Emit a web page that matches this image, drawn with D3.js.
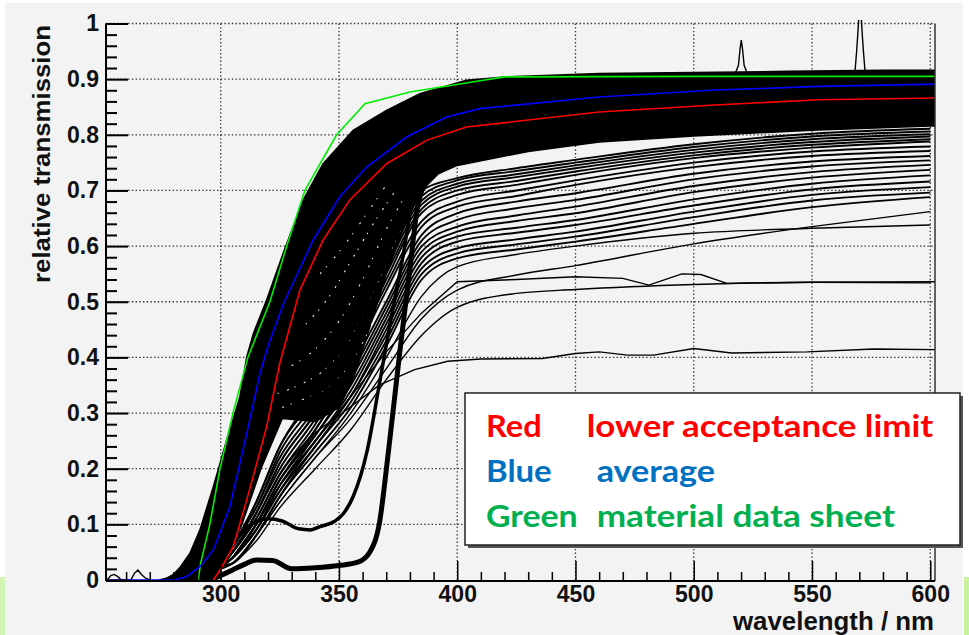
<!DOCTYPE html>
<html>
<head>
<meta charset="utf-8">
<script src="https://cdn.jsdelivr.net/npm/d3@7"></script>
<style>
  html, body { margin: 0; padding: 0; background: #fff; }
  svg { display: block; }
  .axis text { font-family: 'Liberation Sans', Arial, sans-serif; font-weight: bold; font-size: 23px; fill: #111; }
</style>
</head>
<body>
<svg class="chart" width="969" height="635"></svg>
<script>
// tick labels
const xTicks = [300, 350, 400, 450, 500, 550, 600]
const yTicks = [0, 0.1, 0.2, 0.3, 0.4, 0.5, 0.6, 0.7, 0.8, 0.9, 1]
const yTickLabels = ['0', '0.1', '0.2', '0.3', '0.4', '0.5', '0.6', '0.7', '0.8', '0.9', '1']

// dense black band of spectra: upper edge and lower edge
const bandTopWave = [274, 277, 280, 283, 287, 291.2, 296.9, 302.5, 308.1, 311, 313.8, 319.4, 326.4, 334.9, 343.3, 356, 370.1, 384.2, 403.9, 420, 440, 460, 500, 540, 580, 602]
const bandTopValue = [0, 0.003, 0.01, 0.024, 0.048, 0.09, 0.168, 0.251, 0.329, 0.401, 0.443, 0.503, 0.587, 0.683, 0.748, 0.808, 0.844, 0.874, 0.898, 0.904, 0.907, 0.91, 0.912, 0.914, 0.916, 0.916]
const bandLowWave = [602, 600, 550, 500, 460, 430, 400, 392, 385, 378, 370, 362, 356, 350, 340, 326, 317, 309, 306, 302, 297]
const bandLowValue = [0.816, 0.816, 0.808, 0.798, 0.787, 0.77, 0.745, 0.73, 0.7, 0.64, 0.55, 0.44, 0.36, 0.31, 0.285, 0.29, 0.2, 0.1, 0.07, 0.03, 0]

// light gaps between the densest spectra (speckled part of the band)
const gapLines = [
  [[326, 0.31], [335, 0.325], [345, 0.345], [355, 0.39], [365, 0.47], [375, 0.57], [383, 0.66]],
  [[324, 0.335], [334, 0.352], [344, 0.378], [354, 0.428], [364, 0.51], [374, 0.61], [382, 0.68]],
  [[330, 0.385], [340, 0.415], [350, 0.465], [360, 0.54], [370, 0.63], [378, 0.69]],
  [[336, 0.46], [346, 0.51], [356, 0.58], [366, 0.65], [374, 0.7]],
  [[342, 0.55], [352, 0.6], [362, 0.66], [370, 0.71]]
]

// single spectra below the band
const fanWave = [300, 305, 315, 325, 340, 355, 370, 385, 400, 425, 450, 500, 550, 600]
const fanValues = [
  [0.025, 0.06, 0.14, 0.24, 0.34, 0.46, 0.59, 0.7, 0.722, 0.74, 0.755, 0.783, 0.802, 0.811],
  [0.025, 0.06, 0.14, 0.24, 0.33, 0.45, 0.58, 0.69, 0.718, 0.735, 0.75, 0.778, 0.797, 0.806],
  [0.025, 0.06, 0.13, 0.23, 0.32, 0.44, 0.57, 0.682, 0.712, 0.729, 0.745, 0.773, 0.792, 0.801],
  [0.025, 0.06, 0.13, 0.22, 0.31, 0.43, 0.56, 0.675, 0.707, 0.724, 0.74, 0.768, 0.787, 0.797],
  [0.025, 0.05, 0.12, 0.21, 0.3, 0.42, 0.55, 0.667, 0.7, 0.717, 0.734, 0.763, 0.782, 0.792],
  [0.025, 0.05, 0.12, 0.21, 0.3, 0.41, 0.54, 0.66, 0.692, 0.71, 0.728, 0.758, 0.777, 0.788],
  [0.025, 0.05, 0.12, 0.2, 0.29, 0.4, 0.53, 0.645, 0.68, 0.7, 0.718, 0.75, 0.77, 0.779],
  [0.025, 0.05, 0.11, 0.19, 0.28, 0.39, 0.52, 0.635, 0.671, 0.69, 0.71, 0.742, 0.762, 0.771],
  [0.025, 0.05, 0.11, 0.19, 0.27, 0.38, 0.5, 0.62, 0.659, 0.68, 0.695, 0.73, 0.752, 0.762],
  [0.025, 0.04, 0.1, 0.18, 0.27, 0.37, 0.49, 0.61, 0.647, 0.668, 0.683, 0.72, 0.743, 0.754],
  [0.025, 0.04, 0.1, 0.18, 0.26, 0.36, 0.48, 0.6, 0.635, 0.655, 0.671, 0.708, 0.733, 0.746],
  [0.025, 0.04, 0.1, 0.17, 0.26, 0.35, 0.47, 0.59, 0.626, 0.645, 0.659, 0.697, 0.723, 0.737],
  [0.025, 0.04, 0.09, 0.17, 0.25, 0.34, 0.46, 0.58, 0.617, 0.633, 0.647, 0.684, 0.712, 0.727],
  [0.025, 0.04, 0.09, 0.16, 0.25, 0.33, 0.45, 0.57, 0.608, 0.624, 0.638, 0.673, 0.702, 0.716],
  [0.025, 0.04, 0.09, 0.16, 0.24, 0.33, 0.44, 0.56, 0.596, 0.612, 0.626, 0.662, 0.692, 0.706],
  [0.025, 0.03, 0.08, 0.15, 0.24, 0.32, 0.43, 0.55, 0.587, 0.603, 0.617, 0.652, 0.682, 0.696],
  [0.025, 0.03, 0.08, 0.15, 0.23, 0.31, 0.42, 0.54, 0.578, 0.594, 0.608, 0.64, 0.67, 0.688],
  [0.02, 0.03, 0.08, 0.14, 0.22, 0.29, 0.38, 0.47, 0.521, 0.548, 0.565, 0.604, 0.635, 0.662],
  [0.02, 0.03, 0.08, 0.14, 0.22, 0.3, 0.4, 0.51, 0.563, 0.585, 0.6, 0.623, 0.632, 0.638],
  [0.02, 0.03, 0.07, 0.13, 0.2, 0.27, 0.36, 0.44, 0.49, 0.515, 0.522, 0.531, 0.535, 0.534]
]
const bumpWave = [300, 305, 315, 325, 340, 355, 370, 385, 400, 425, 450, 470, 481, 495, 503, 514, 550, 602]
const bumpValue = [0.02, 0.04, 0.1, 0.17, 0.25, 0.33, 0.41, 0.48, 0.536, 0.54, 0.545, 0.542, 0.53, 0.55, 0.549, 0.533, 0.535, 0.536]
const lowWave = [300, 305, 315, 325, 340, 353, 367, 382, 396, 410, 436, 450, 460, 472, 483, 500, 516, 548, 576, 602]
const lowValue = [0.02, 0.04, 0.1, 0.18, 0.265, 0.305, 0.35, 0.378, 0.393, 0.397, 0.398, 0.407, 0.41, 0.404, 0.404, 0.416, 0.408, 0.41, 0.415, 0.414]

// the two dark samples
const thickAWave = [300, 305, 310, 315, 320, 326, 333, 338, 342, 348, 352, 356, 362, 367, 372, 377, 381, 385, 392]
const thickAValue = [0.03, 0.06, 0.09, 0.105, 0.11, 0.106, 0.092, 0.09, 0.096, 0.105, 0.12, 0.15, 0.234, 0.35, 0.47, 0.58, 0.68, 0.72, 0.75]
const thickBWave = [296, 300, 305, 310, 315, 322, 330, 340, 350, 358, 363, 367, 371, 376, 380, 383, 387, 392]
const thickBValue = [0, 0.008, 0.018, 0.028, 0.036, 0.035, 0.02, 0.022, 0.026, 0.032, 0.05, 0.1, 0.234, 0.42, 0.56, 0.665, 0.72, 0.75]

// noise near zero and two spikes on top
const noiseWave = [252, 253.5, 255, 256.5, 258, 262, 263.5, 265, 266.5, 268, 270]
const noiseValue = [0, 0.008, 0.01, 0.006, 0, 0, 0.012, 0.018, 0.01, 0.004, 0]
const spikeOneWave = [517.8, 518.9, 519.6, 520.1, 520.6, 521.3, 522.4]
const spikeOneValue = [0.913, 0.925, 0.955, 0.97, 0.955, 0.925, 0.913]
const spikeTwoWave = [568.2, 568.9, 569.6, 570.3, 571.0, 571.7, 572.4]
const spikeTwoValue = [0.915, 0.952, 0.997, 1.05, 0.997, 0.952, 0.915]

// reference curves
const greenWave = [290.5, 291.5, 295.4, 299.7, 305.2, 311.5, 320.8, 327.9, 335.6, 349, 361, 380, 405, 420, 500, 602]
const greenValue = [0, 0.03, 0.1, 0.2, 0.3, 0.4, 0.5, 0.6, 0.7, 0.8, 0.856, 0.877, 0.894, 0.904, 0.905, 0.905]
const blueWave = [252, 280, 285.6, 291.2, 296.9, 303.9, 311, 316.6, 320, 326.4, 329.3, 339.1, 350.4, 361.7, 378.6, 395.5, 409.6, 460, 507, 553, 602]
const blueValue = [0, 0, 0.006, 0.024, 0.054, 0.132, 0.263, 0.371, 0.42, 0.495, 0.522, 0.611, 0.689, 0.742, 0.796, 0.832, 0.847, 0.868, 0.88, 0.887, 0.891]
const redWave = [296.9, 300, 305.3, 311, 319.4, 325, 333.5, 343.3, 354.6, 370.1, 387, 403.9, 460, 507, 553, 602]
const redValue = [0, 0.02, 0.06, 0.144, 0.275, 0.39, 0.521, 0.611, 0.683, 0.748, 0.79, 0.814, 0.841, 0.853, 0.863, 0.866]

const legendKeys = ['Red', 'Blue', 'Green']
const legendTexts = ['lower acceptance limit', 'average', 'material data sheet']
const legendColors = ['#ff0000', '#0070c0', '#00b050']

const zip = (ws, vs) => ws.map((w, i) => [w, vs[i]])

const chart = d3.select('.chart')
const frame = { left: 106, right: 935, top: 23.5, bottom: 581 }

const x = d3.scaleLinear().domain([251.5, 602]).range([frame.left, frame.right])
const y = d3.scaleLinear().domain([0, 1]).range([580, frame.top])

// pad
chart.append('rect').attr('x', 5).attr('y', 3).attr('width', 958).attr('height', 632).attr('fill', '#f3f3f3')
chart.append('rect').attr('x', 0).attr('y', 577).attr('width', 5).attr('height', 58).attr('fill', '#d2f5b4')
chart.append('rect').attr('x', 964).attr('y', 577).attr('width', 5).attr('height', 58).attr('fill', '#c8f2a0')

chart.append('clipPath').attr('id', 'plot')
  .append('rect')
  .attr('x', frame.left).attr('y', 20)
  .attr('width', frame.right - frame.left).attr('height', frame.bottom - 20)

// dotted grid
const grid = chart.append('g').attr('stroke', '#333').attr('stroke-width', 1.3).attr('stroke-dasharray', '1.4 2.3')
grid.selectAll('.vgrid').data(xTicks).enter().append('line')
  .attr('x1', d => x(d)).attr('x2', d => x(d))
  .attr('y1', frame.top).attr('y2', frame.bottom)
grid.selectAll('.hgrid').data(yTicks.slice(1)).enter().append('line')
  .attr('x1', frame.left).attr('x2', frame.right)
  .attr('y1', d => y(d)).attr('y2', d => y(d))

const plot = chart.append('g').attr('clip-path', 'url(#plot)')
const line = d3.line().x(d => x(d[0])).y(d => y(d[1]))
const smooth = d3.line().x(d => x(d[0])).y(d => y(d[1])).curve(d3.curveMonotoneX)

// band
const bandPoints = zip(bandTopWave, bandTopValue).concat(zip(bandLowWave, bandLowValue))
plot.append('path')
  .attr('d', line(bandPoints) + 'Z')
  .attr('fill', '#000')
  .attr('stroke', '#000')
  .attr('stroke-width', 1.5)

plot.append('g').selectAll('path')
  .data(gapLines)
  .enter()
  .append('path')
  .attr('d', smooth)
  .attr('fill', 'none')
  .attr('stroke', '#f3f3f3')
  .attr('stroke-width', 1.1)
  .attr('stroke-dasharray', (d, i) => (i % 2 ? '1.2 9 2 6' : '2 7 1.2 11'))

const fanLines = fanValues.map(vs => zip(fanWave, vs))
plot.append('g').selectAll('path')
  .data(fanLines)
  .enter()
  .append('path')
  .attr('d', smooth)
  .attr('fill', 'none')
  .attr('stroke', '#000')
  .attr('stroke-width', (d, i) => (i < 17 ? 1.9 : 1.4))

const otherLines = [zip(bumpWave, bumpValue), zip(lowWave, lowValue), zip(noiseWave, noiseValue),
  zip(spikeOneWave, spikeOneValue), zip(spikeTwoWave, spikeTwoValue)]
plot.append('g').selectAll('path')
  .data(otherLines)
  .enter()
  .append('path')
  .attr('d', line)
  .attr('fill', 'none')
  .attr('stroke', '#000')
  .attr('stroke-width', 1.4)

plot.append('path').attr('d', smooth(zip(thickAWave, thickAValue)))
  .attr('fill', 'none').attr('stroke', '#000').attr('stroke-width', 3.5)
plot.append('path').attr('d', smooth(zip(thickBWave, thickBValue)))
  .attr('fill', 'none').attr('stroke', '#000').attr('stroke-width', 5)

const refCurves = [
  { points: zip(greenWave, greenValue), color: '#00ee00' },
  { points: zip(blueWave, blueValue), color: '#0000ff' },
  { points: zip(redWave, redValue), color: '#ff0000' }
]
plot.append('g').selectAll('path')
  .data(refCurves)
  .enter()
  .append('path')
  .attr('d', d => line(d.points))
  .attr('fill', 'none')
  .attr('stroke', d => d.color)
  .attr('stroke-width', 1.6)

// frame and axes
chart.append('line')
  .attr('x1', frame.right).attr('x2', frame.right)
  .attr('y1', frame.top).attr('y2', frame.bottom)
  .attr('stroke', '#333').attr('stroke-width', 1.5)

const xMinor = d3.range(260, 601, 10).filter(d => d % 50 !== 0)
const yMinor = d3.range(1, 50).map(d => d / 50).filter((d, i) => (i + 1) % 5 !== 0)

chart.append('g').attr('class', 'axis').attr('transform', `translate(0,${frame.bottom})`)
  .call(d3.axisBottom(x).tickValues(xMinor).tickSizeInner(-9).tickSizeOuter(0).tickFormat(''))
  .call(g => g.select('.domain').remove())
  .selectAll('line').attr('stroke-width', 1.5)

chart.append('g').attr('class', 'axis').attr('transform', `translate(0,${frame.bottom})`)
  .call(d3.axisBottom(x).tickValues(xTicks).tickSizeInner(-20).tickSizeOuter(0).tickPadding(5).tickFormat(d => d))
  .call(g => g.select('.domain').attr('stroke-width', 2).attr('d', `M${frame.left},0H${frame.right}`))
  .selectAll('line').attr('stroke-width', 1.5)

chart.append('g').attr('class', 'axis').attr('transform', `translate(${frame.left},0)`)
  .call(d3.axisLeft(y).tickValues(yMinor).tickSizeInner(-11).tickSizeOuter(0).tickFormat(''))
  .call(g => g.select('.domain').remove())
  .selectAll('line').attr('stroke-width', 2)

chart.append('g').attr('class', 'axis').attr('transform', `translate(${frame.left},0)`)
  .call(d3.axisLeft(y).tickValues(yTicks).tickSizeInner(-22).tickSizeOuter(0).tickPadding(7)
    .tickFormat((d, i) => yTickLabels[i]))
  .call(g => g.select('.domain').attr('stroke-width', 2).attr('d', `M0,${frame.top}V${frame.bottom}`))
  .selectAll('line').attr('stroke-width', 2)

chart.selectAll('.axis text').attr('font-family', null).attr('font-size', null)

// axis titles
chart.append('text')
  .attr('transform', 'translate(50,25) rotate(-90)')
  .attr('text-anchor', 'end')
  .attr('textLength', 258)
  .attr('lengthAdjust', 'spacingAndGlyphs')
  .style('font', "bold 23px 'Liberation Sans', Arial, sans-serif")
  .attr('fill', '#111')
  .text('relative transmission')

chart.append('text')
  .attr('x', 934).attr('y', 630)
  .attr('text-anchor', 'end')
  .attr('textLength', 201)
  .attr('lengthAdjust', 'spacingAndGlyphs')
  .style('font', "bold 25px 'Liberation Sans', Arial, sans-serif")
  .attr('fill', '#111')
  .text('wavelength / nm')

// legend box
const legend = chart.append('g')
legend.append('rect').attr('x', 468).attr('y', 396).attr('width', 495).attr('height', 152).attr('fill', '#555')
legend.append('rect').attr('x', 465).attr('y', 393).attr('width', 495).attr('height', 152)
  .attr('fill', '#fff').attr('stroke', '#222').attr('stroke-width', 1.5)

const keyLengths = [55.7, 65.7, 91.7]
const textStarts = [586.7, 596.7, 596.7]
const textLengths = [346.6, 118.3, 298.3]
const rows = legend.selectAll('.row').data(legendKeys).enter().append('g')
  .attr('transform', (d, i) => `translate(0,${436.7 + i * 45})`)
rows.append('text')
  .attr('x', 486)
  .attr('textLength', (d, i) => keyLengths[i])
  .attr('lengthAdjust', 'spacingAndGlyphs')
  .style('font', 'bold 31px Lato, sans-serif')
  .attr('fill', (d, i) => legendColors[i])
  .text(d => d)
rows.append('text')
  .attr('x', (d, i) => textStarts[i])
  .attr('textLength', (d, i) => textLengths[i])
  .attr('lengthAdjust', 'spacingAndGlyphs')
  .style('font', 'bold 31px Lato, sans-serif')
  .attr('fill', (d, i) => legendColors[i])
  .text((d, i) => legendTexts[i])
</script>
</body>
</html>
